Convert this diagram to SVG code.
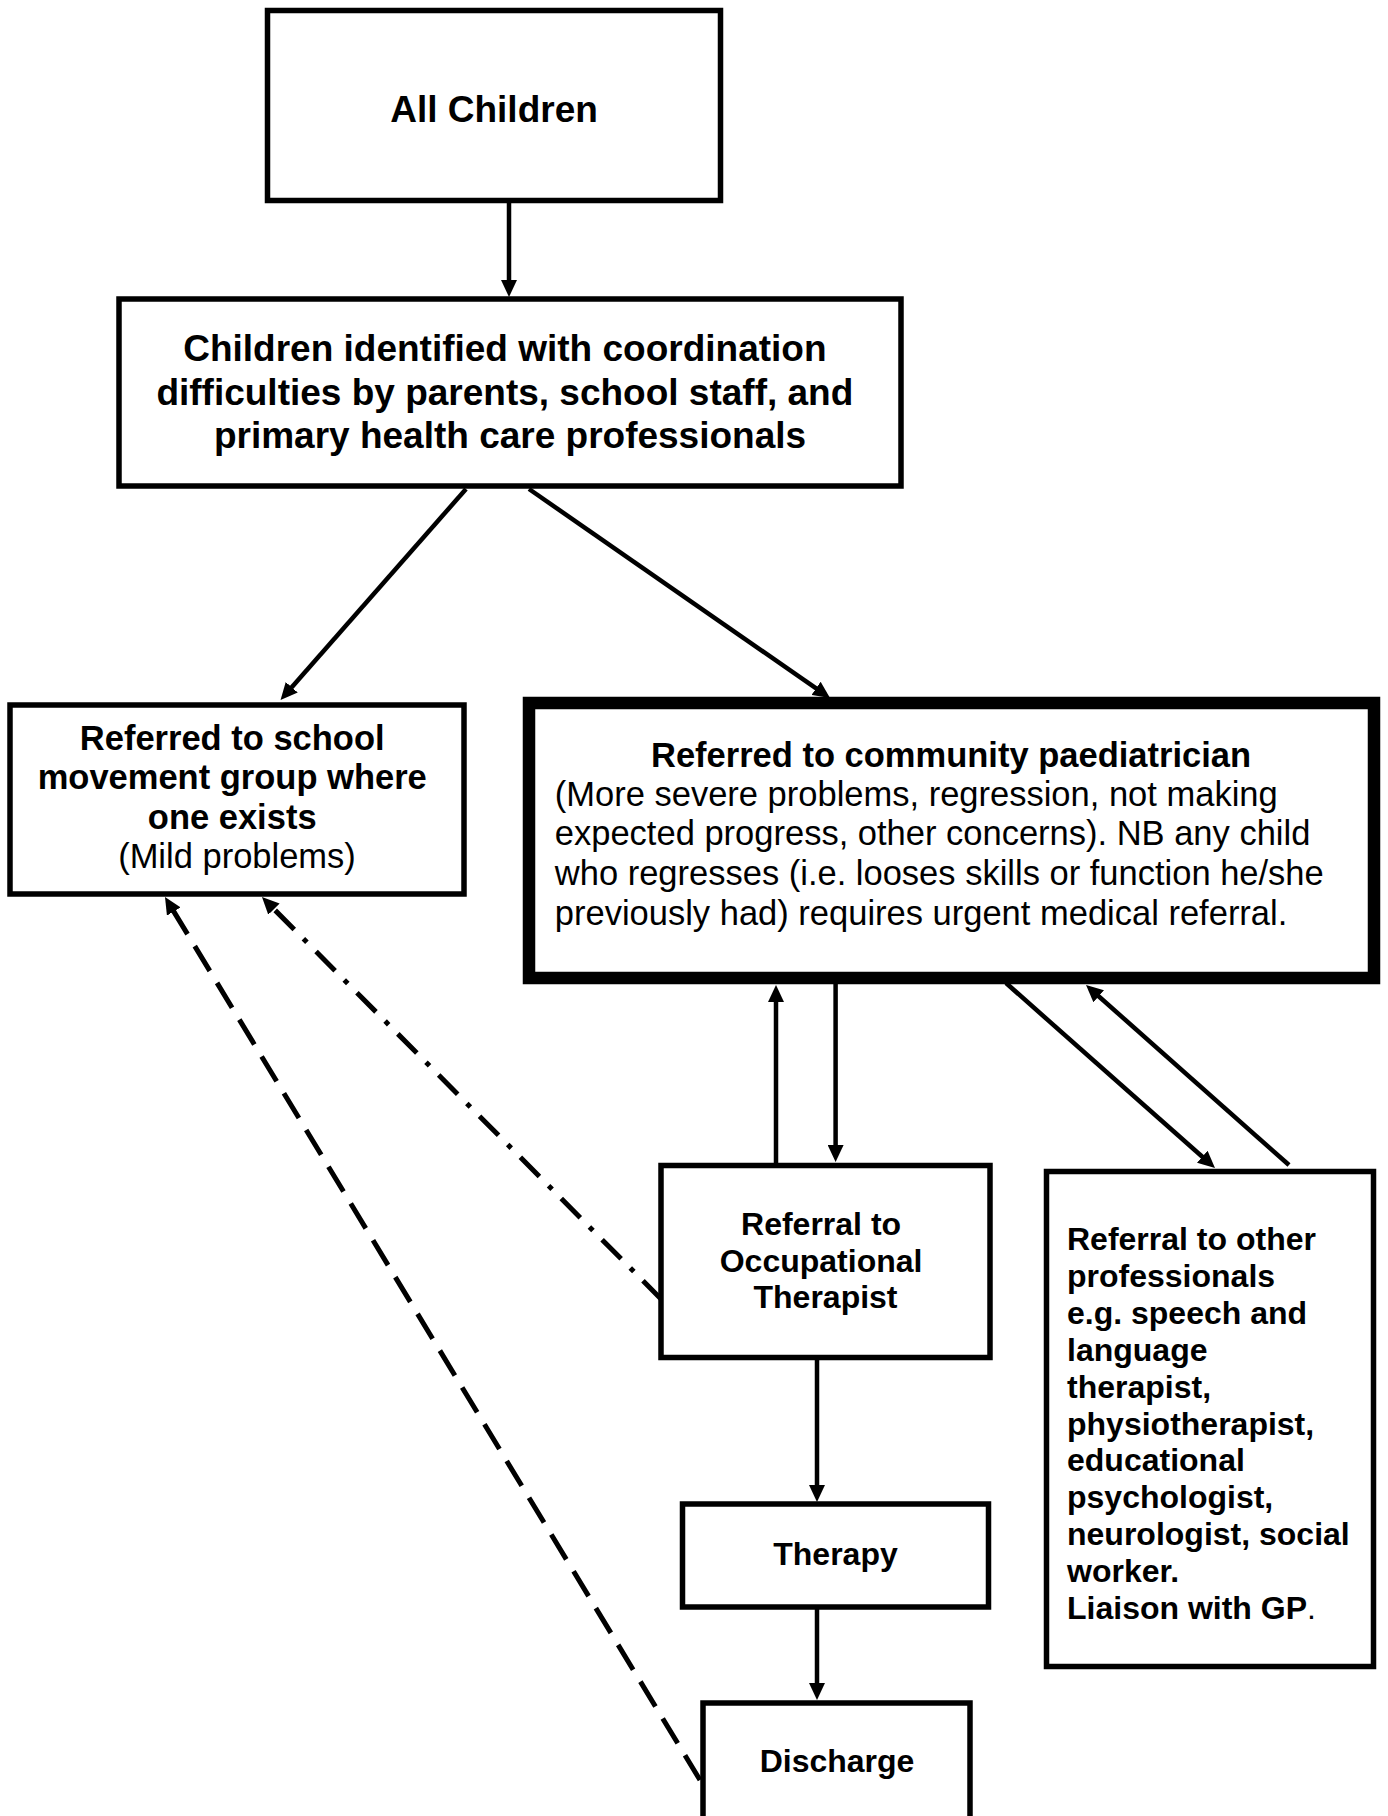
<svg xmlns="http://www.w3.org/2000/svg" width="1388" height="1816" viewBox="0 0 1388 1816">
<defs>
<style>
.box{fill:#fff;stroke:#000;stroke-width:5.5}
.thick{fill:#fff;stroke:#000;stroke-width:12.5}
.t{font-family:"Liberation Sans",Arial,sans-serif;fill:#000}
.b{font-weight:bold}
.n{font-weight:normal}
.c{text-anchor:middle}
.con{fill:none;stroke:#000;stroke-width:4.5;marker-end:url(#arr)}
.dash{stroke-width:5;stroke-dasharray:29 14}
.dashdot{stroke-width:5;stroke-dasharray:27 13 5 13}
</style>
<marker id="arr" viewBox="0 0 17 16" markerUnits="userSpaceOnUse" markerWidth="17" markerHeight="16" refX="11" refY="8" orient="auto">
<path d="M0,0 L17,8 L0,16 z" fill="#000" stroke="none"/>
</marker>
</defs>
<rect width="1388" height="1816" fill="#fff"/>

<g id="connectors">
<line class="con" x1="509" y1="203" x2="509" y2="291"/>
<line class="con" x1="466" y1="489" x2="284.5" y2="695.5"/>
<line class="con" x1="529" y1="489" x2="825.1" y2="694.6"/>
<line class="con" x1="776" y1="1163" x2="776" y2="991"/>
<line class="con" x1="835.6" y1="984" x2="835.6" y2="1156"/>
<line class="con" x1="1006" y1="983" x2="1210.5" y2="1164"/>
<line class="con" x1="1289" y1="1165" x2="1090.5" y2="989"/>
<line class="con" x1="817" y1="1360" x2="817" y2="1496"/>
<line class="con" x1="817" y1="1609" x2="817" y2="1694"/>
<line class="con dashdot" x1="662" y1="1300" x2="266.2" y2="901.3"/>
<line class="con dash" x1="700" y1="1780" x2="168.1" y2="902.1"/>
</g>

<g id="all-children">
<rect class="box" x="267.5" y="10.5" width="453" height="190"/>
<text class="t b c" x="494" y="122" font-size="37">All Children</text>
</g>

<g id="identified">
<rect class="box" x="119" y="299" width="782" height="187"/>
<text class="t b c" font-size="37">
<tspan x="510" y="361">Children identified with coordination</tspan>
<tspan x="510" y="404.5">difficulties by parents, school staff, and</tspan>
<tspan x="510" y="448">primary health care professionals</tspan>
</text>
</g>

<g id="school-group">
<rect class="box" x="10" y="705" width="454" height="189"/>
<text class="t c" font-size="34.5">
<tspan class="b" x="237" y="750">Referred to school</tspan>
<tspan class="b" x="237" y="789.3">movement group where</tspan>
<tspan class="b" x="237" y="828.6">one exists</tspan>
<tspan class="n" x="237" y="868">(Mild problems)</tspan>
</text>
</g>

<g id="paediatrician">
<rect class="thick" x="529" y="703" width="845" height="275"/>
<text class="t b c" x="951" y="766.7" font-size="34.5">Referred to community paediatrician</text>
<text class="t n" font-size="34.5">
<tspan x="554.8" y="805.5">(More severe problems, regression, not making</tspan>
<tspan x="554.8" y="845.3">expected progress, other concerns). NB any child</tspan>
<tspan x="554.8" y="885.1">who regresses (i.e. looses skills or function he/she</tspan>
<tspan x="554.8" y="924.9">previously had) requires urgent medical referral.</tspan>
</text>
</g>

<g id="occupational-therapist">
<rect class="box" x="661" y="1165.5" width="329" height="192"/>
<text class="t b c" font-size="32">
<tspan x="825.5" y="1235">Referral to</tspan>
<tspan x="825.5" y="1271.7">Occupational</tspan>
<tspan x="825.5" y="1308.4">Therapist</tspan>
</text>
</g>

<g id="other-professionals">
<rect class="box" x="1046.5" y="1171.5" width="327" height="495"/>
<text class="t b" font-size="32">
<tspan x="1067" y="1250">Referral to other</tspan>
<tspan x="1067" y="1286.9">professionals</tspan>
<tspan x="1067" y="1323.8">e.g. speech and</tspan>
<tspan x="1067" y="1360.7">language</tspan>
<tspan x="1067" y="1397.6">therapist,</tspan>
<tspan x="1067" y="1434.5">physiotherapist,</tspan>
<tspan x="1067" y="1471.4">educational</tspan>
<tspan x="1067" y="1508.3">psychologist,</tspan>
<tspan x="1067" y="1545.2">neurologist, social</tspan>
<tspan x="1067" y="1582.1">worker.</tspan>
<tspan x="1067" y="1619">Liaison with GP</tspan><tspan class="n">.</tspan>
</text>
</g>

<g id="therapy">
<rect class="box" x="682.5" y="1504" width="306" height="103"/>
<text class="t b c" x="835.5" y="1565" font-size="32">Therapy</text>
</g>

<g id="discharge">
<rect class="box" x="703" y="1703" width="267" height="200"/>
<text class="t b c" x="837" y="1772" font-size="32">Discharge</text>
</g>
</svg>
